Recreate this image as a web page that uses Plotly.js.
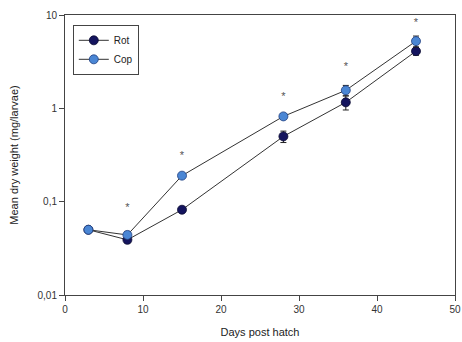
<!DOCTYPE html>
<html>
<head>
<meta charset="utf-8">
<script src="https://cdn.plot.ly/plotly-3.0.1.min.js"></script>
<style>html,body{margin:0;padding:0;background:#fff;}#chart{width:462px;height:342px;}</style>
</head>
<body>
<div id="chart"></div>
<script>
// Larval dry weight over time for two diets
const days = [3, 8, 15, 28, 36, 45];
const rotMean = [0.05, 0.039, 0.082, 0.50, 1.16, 4.1];
const rotErr = [0.002, 0.003, 0.004, 0.07, 0.2, 0.4];
const copMean = [0.05, 0.044, 0.19, 0.82, 1.56, 5.25];
const copErr = [0.002, 0.004, 0.01, 0.06, 0.2, 0.7];
// significance markers
const sigDays = [8, 15, 28, 36, 45];
const sigLevel = [0.086, 0.31, 1.31, 2.76, 8.2];
const yTickVals = [0.01, 0.1, 1, 10];
const yTickText = ['0,01', '0,1', '1', '10'];
const xTickVals = [0, 10, 20, 30, 40, 50];

const font = 'Liberation Sans, Arial, sans-serif';

const traces = [
  {
    x: days, y: rotMean, name: 'Rot', type: 'scatter', mode: 'lines+markers',
    line: {color: '#333333', width: 1},
    marker: {color: '#14145e', size: 9, line: {color: '#0a0a30', width: 0.8}},
    error_y: {type: 'data', array: rotErr, visible: true, color: '#222', thickness: 1, width: 3}
  },
  {
    x: days, y: copMean, name: 'Cop', type: 'scatter', mode: 'lines+markers',
    line: {color: '#333333', width: 1},
    marker: {color: '#4a86d4', size: 9, line: {color: '#1f3f80', width: 0.8}},
    error_y: {type: 'data', array: copErr, visible: true, color: '#222', thickness: 1, width: 3}
  },
  {
    x: sigDays, y: sigLevel, type: 'scatter', mode: 'text', text: sigDays.map(() => '*'),
    textfont: {family: font, size: 11, color: '#555'}, showlegend: false, hoverinfo: 'skip'
  }
];

const layout = {
  width: 462, height: 342,
  margin: {l: 65, r: 7, t: 15, b: 47},
  paper_bgcolor: '#fff', plot_bgcolor: '#fff',
  font: {family: font, size: 10, color: '#222'},
  showlegend: true,
  legend: {
    x: 0.02, y: 0.965, xanchor: 'left', yanchor: 'top',
    bordercolor: '#444', borderwidth: 1, bgcolor: '#fff',
    font: {family: font, size: 10, color: '#222'},
    tracegroupgap: 0, itemwidth: 30
  },
  xaxis: {
    range: [0, 50], tickvals: xTickVals, ticks: 'outside', ticklen: 5, tickcolor: '#444',
    showline: true, linecolor: '#444', linewidth: 1, mirror: true, showgrid: false, zeroline: false,
    tickfont: {family: font, size: 10, color: '#333'},
    title: {text: 'Days post hatch', font: {family: font, size: 11, color: '#222'}, standoff: 14}
  },
  yaxis: {
    type: 'log', range: [-2, 1], tickvals: yTickVals, ticktext: yTickText,
    ticks: 'outside', ticklen: 5, tickcolor: '#444',
    showline: true, linecolor: '#444', linewidth: 1, mirror: true, showgrid: false, zeroline: false,
    tickfont: {family: font, size: 10, color: '#333'},
    title: {text: 'Mean dry weight (mg/larvae)', font: {family: font, size: 11, color: '#222'}, standoff: 16}
  }
};

Plotly.newPlot('chart', traces, layout, {displayModeBar: false, staticPlot: true});
</script>
</body>
</html>
